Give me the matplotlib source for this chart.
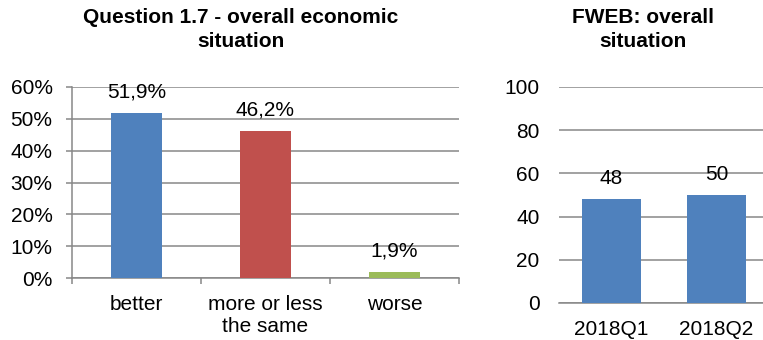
import matplotlib.pyplot as plt
from matplotlib.ticker import FuncFormatter

# left chart: answers to question 1.7
answers = ["better", "more or less\nthe same", "worse"]
shares = [0.519, 0.462, 0.019]
share_labels = ["51,9%", "46,2%", "1,9%"]
answer_colors = ["#4F81BD", "#C0504D", "#9BBB59"]

# right chart: FWEB index
quarters = ["2018Q1", "2018Q2"]
fweb = [48, 50]

plt.rcParams['font.family'] = ['Liberation Sans', 'DejaVu Sans']
grid_col = "#878787"
fs = 15

fig = plt.figure(figsize=(7.63, 3.4), dpi=100)

# ---- left ----
ax = fig.add_axes([72/763, 62/340, 387/763, 191/340])
x = range(len(answers))
ax.bar(x, shares, width=0.4, color=answer_colors, zorder=3)
ax.set_xlim(-0.5, 2.5)
ax.set_ylim(0, 0.6)
ax.set_yticks([0, 0.1, 0.2, 0.3, 0.4, 0.5, 0.6])
ax.yaxis.set_major_formatter(FuncFormatter(lambda v, p: "%d%%" % round(v * 100)))
ax.set_xticks(list(x))
ax.set_xticklabels(answers, fontsize=fs, linespacing=1.25)
ax.set_xticks([-0.5, 0.5, 1.5, 2.5], minor=True)
ax.tick_params(axis='x', which='major', length=0, pad=12)
ax.tick_params(axis='x', which='minor', length=4, width=1.1, color=grid_col, direction='out')
ax.tick_params(axis='y', length=4, width=1.1, color=grid_col, pad=10, labelsize=fs)
ax.grid(axis='y', color=grid_col, lw=1.1, zorder=0)
for s in ['top', 'right']:
    ax.spines[s].set_visible(False)
for s in ['left', 'bottom']:
    ax.spines[s].set_color(grid_col)
    ax.spines[s].set_linewidth(1.1)
for i, (v, t) in enumerate(zip(shares, share_labels)):
    ax.annotate(t, (i, v), xytext=(0, 11), textcoords='offset points',
                ha='center', va='baseline', fontsize=fs, zorder=4)

fig.text(241/763, 1 - 8/340, "Question 1.7 - overall economic\nsituation",
         ha='center', va='top', fontsize=fs, fontweight='bold', linespacing=1.35)

# ---- right ----
ax2 = fig.add_axes([559/763, 37/340, 210/763, 216/340])
xq = range(len(quarters))
ax2.bar(xq, fweb, width=0.57, color="#4F81BD", zorder=3)
ax2.set_xlim(-0.5, 1.5)
ax2.set_ylim(0, 100)
ax2.set_yticks([0, 20, 40, 60, 80, 100])
ax2.set_xticks(list(xq))
ax2.set_xticklabels(quarters, fontsize=fs)
ax2.tick_params(axis='x', length=0, pad=12)
ax2.tick_params(axis='y', length=0, pad=14, labelsize=fs)
ax2.grid(axis='y', color=grid_col, lw=1.1, zorder=0)
for s in ['top', 'right', 'left']:
    ax2.spines[s].set_visible(False)
ax2.spines['bottom'].set_color(grid_col)
ax2.spines['bottom'].set_linewidth(1.1)
for i, v in enumerate(fweb):
    ax2.annotate(str(v), (i, v), xytext=(0, 11), textcoords='offset points',
                 ha='center', va='baseline', fontsize=fs, zorder=4)

fig.text(643/763, 1 - 8/340, "FWEB: overall\nsituation",
         ha='center', va='top', fontsize=fs, fontweight='bold', linespacing=1.35)

fig.savefig("out.png", dpi=100)
